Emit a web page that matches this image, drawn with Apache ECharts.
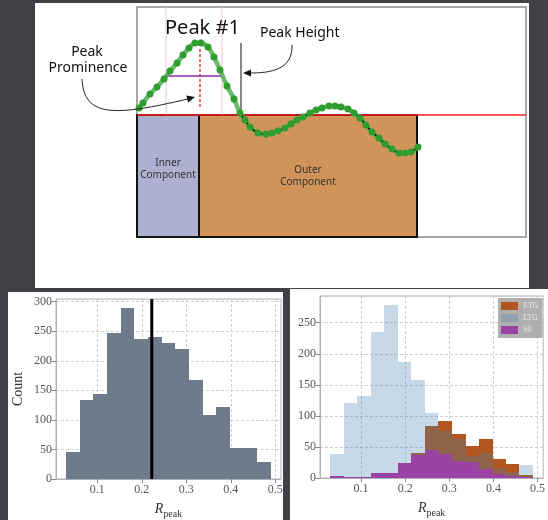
<!DOCTYPE html>
<html><head><meta charset="utf-8">
<script src="https://cdn.jsdelivr.net/npm/echarts@6/dist/echarts.min.js"></script>
<style>html,body{margin:0;padding:0;background:#404146}#c{width:548px;height:520px}</style>
</head><body><div id="c"></div>
<script>
// ---------- DATA ----------
// schematic profile (diagram units: x from left of frame, y above the threshold line)
const profileX = [2,6,13,20,27,33,40,46,52,58,64,71,77,83,90,97,103,108,113,121,129,135,141,148,154,160,166,173,179,185,192,198,204,211,217,223,229,235,242,248,255,262,268,274,281];
const profileY = [7,12,21,28,36,44,52,60,67,72,72,68,58,45,29,16,2,-5,-12,-18,-19,-18,-16,-13,-9,-5,-2,2,5,7,9,9,8,6,2,-3,-10,-17,-23,-29,-34,-38,-38,-37,-32];
const componentNames = ['Inner\nComponent', 'Outer\nComponent'];
const componentEdges = [0, 62, 280];
const componentDepth = -122;
const peakX = 63, peakTop = 68, peakBottom = 8;
const peakWidthEdges = [29, 85];
const prominenceLevel = 39;
const heightMarkerX = 104, heightMarkerTop = 72;

// histograms
const rEdges = [0.030,0.061,0.091,0.122,0.153,0.183,0.214,0.245,0.275,0.306,0.337,0.367,0.398,0.429,0.459,0.490];
const countAll = [45,133,143,247,290,237,240,230,220,168,108,122,53,53,28];
const medianR = 0.2224;
const countETG = [0,0,0,0,0,5,41,83,92,71,51,62,31,22,5];
const countLTG = [39,121,132,235,279,186,158,104,75,62,35,40,16,10,21];
const countS0  = [4,2,2,8,8,24,37,45,38,28,26,14,6,3,1];
const groupNames = ['ETG','LTG','S0'];

// ---------- CHART ----------
const chart = echarts.init(document.getElementById('c'), null, {renderer:'canvas'});
const serif = "'Liberation Serif', 'DejaVu Serif', serif";
const sans = "'Noto Sans', 'Open Sans', sans-serif";
const tickColor = '#555';
const gridBorder = '#aeb3b8';

function histSeries(name, values, fill, axisIdx, z) {
  return {
    type:'custom', name, xAxisIndex:axisIdx, yAxisIndex:axisIdx, z: z||2,
    itemStyle:{color:fill},
    data: values.map((v,i)=>[rEdges[i], rEdges[i+1], v]),
    encode:{x:[0,1], y:2},
    renderItem:(params, api)=>{
      const p0 = api.coord([api.value(0), api.value(2)]);
      const p1 = api.coord([api.value(1), 0]);
      const x0 = Math.round(p0[0]), x1 = Math.round(p1[0]);
      const y0 = Math.round(p0[1]), y1 = Math.round(p1[1]);
      return {type:'rect', shape:{x:x0, y:y0, width:x1-x0, height:y1-y0}, style:{fill}};
    }
  };
}

function seg(x0,y0,x1,y1,color,width,type,z){
  return {type:'line', xAxisIndex:0, yAxisIndex:0, data:[[x0,y0],[x1,y1]], symbol:'none', silent:true, z:z||3,
    lineStyle:{color, width, type:type||'solid'}, animation:false};
}

function histX(idx){
  return {gridIndex:idx, type:'value', min:0.007, max:0.513, splitNumber:5,
    axisLine:{show:true, lineStyle:{color:gridBorder}},
    axisTick:{show:true, length:4, lineStyle:{color:'#888'}},
    axisLabel:{color:tickColor, fontFamily:serif, fontSize:12, margin:5, showMinLabel:false, showMaxLabel:false,
      formatter:v=>v.toFixed(1)},
    splitLine:{show:true, lineStyle:{color:'#cfcfcf', type:[3,2]}},
    name:'{r|R}{p|peak}', nameLocation:'middle', nameGap:21,
    nameTextStyle:{rich:{r:{fontFamily:serif, fontStyle:'italic', fontSize:14, color:'#333'},
                          p:{fontFamily:serif, fontSize:10, color:'#333', padding:[9,0,0,0]}}}
  };
}
function histY(idx, max, name){
  return {gridIndex:idx, type:'value', min:0, max, interval:50,
    axisLine:{show:true, lineStyle:{color:gridBorder}},
    axisTick:{show:true, length:4, lineStyle:{color:'#888'}},
    axisLabel:{color:tickColor, fontFamily:serif, fontSize:12, margin:4, showMaxLabel:false},
    splitLine:{show:true, lineStyle:{color:'#cfcfcf', type:[3,2]}},
    name, nameLocation:'middle', nameGap:31, nameRotate:90,
    nameTextStyle:{fontFamily:serif, fontSize:14, color:'#333'}
  };
}

const outlineY = profileY.map(v => v <= 2 ? v : null);

const option = {
  backgroundColor:'#404146',
  animation:false,
  grid:[
    {left:137, top:7, width:389, height:230, show:false},
    {left:56, top:299, width:225, height:181, show:true, borderColor:gridBorder, borderWidth:1, backgroundColor:'transparent'},
    {left:320, top:296, width:228, height:182, show:true, borderColor:gridBorder, borderWidth:1, backgroundColor:'transparent'}
  ],
  xAxis:[
    {gridIndex:0, type:'value', min:0, max:389, show:false},
    histX(1), histX(2)
  ],
  yAxis:[
    {gridIndex:0, type:'value', min:componentDepth, max:108, show:false},
    histY(1, 304.5, 'Count'), histY(2, 293, '')
  ],
  legend:{
    data:groupNames, orient:'vertical', left:498, top:298, itemWidth:17, itemHeight:8, itemGap:4,
    icon:'rect', padding:[4,4,4,3], backgroundColor:'rgba(150,150,150,0.75)', borderWidth:0,
    textStyle:{fontFamily:serif, fontSize:8, color:'#e8e8e8'}, selectedMode:false
  },
  series:[
    // components boxes
    {type:'custom', xAxisIndex:0, yAxisIndex:0, z:2, silent:true,
     data: componentNames.map((n,i)=>[componentEdges[i], componentEdges[i+1], componentDepth, i]),
     renderItem:(params, api)=>{
       const a = api.coord([api.value(0), 0]);
       const b = api.coord([api.value(1), api.value(2)]);
       const i = api.value(3);
       const fills = ['#adb0d1','#d09459'];
       const ty = i===0 ? -7 : 0;
       return {type:'group', children:[
         {type:'rect', shape:{x:a[0], y:a[1], width:b[0]-a[0], height:b[1]-a[1]}, style:{fill:fills[i], stroke:'#111', lineWidth:2}},
         {type:'text', style:{text:componentNames[i], x:(a[0]+b[0])/2, y:(a[1]+b[1])/2+ty, textAlign:'center', align:'center', textVerticalAlign:'middle', verticalAlign:'middle', fill:'#333', fontSize:10, fontFamily:sans, lineHeight:12}}
       ]};
     }},
    // helper lines
    seg(peakWidthEdges[0],0,peakWidthEdges[0],108,'#f7c4c4',1),
    seg(peakWidthEdges[1],0,peakWidthEdges[1],108,'#f7c4c4',1),
    seg(0,0,389,0,'#ff1e1e',1.5,'solid',4),
    seg(peakX,peakBottom,peakX,peakTop,'#e03c3c',1.5,[3,2]),
    seg(peakWidthEdges[0],prominenceLevel,peakWidthEdges[1],prominenceLevel,'#8e2fa0',1.5),
    seg(heightMarkerX,0,heightMarkerX,heightMarkerTop,'#111',1),
    // profile curve
    {type:'line', xAxisIndex:0, yAxisIndex:0, z:5, data:profileX.map((x,i)=>[x, profileY[i]]), symbol:'none', smooth:0.3,
     lineStyle:{color:'rgba(80,175,80,0.85)', width:4.5}},
    {type:'line', xAxisIndex:0, yAxisIndex:0, z:6, data:profileX.map((x,i)=>[x, outlineY[i]]), symbol:'none', smooth:0.3, connectNulls:false,
     lineStyle:{color:'#111', width:1.5}},
    {type:'scatter', xAxisIndex:0, yAxisIndex:0, z:7, data:profileX.map((x,i)=>[x, profileY[i]]), symbolSize:7,
     itemStyle:{color:'#2f9e2f', opacity:1}},
    // left histogram
    histSeries('all', countAll, '#6e7b8b', 1),
    {type:'line', xAxisIndex:1, yAxisIndex:1, z:4, data:[[medianR,0],[medianR,304.5]], symbol:'none', lineStyle:{color:'#000', width:3}},
    // right histogram
    histSeries('ETG', countETG, '#b1561f', 2, 2),
    histSeries('LTG', countLTG, 'rgba(70,130,180,0.3)', 2, 3),
    histSeries('S0', countS0, '#9b43a3', 2, 4)
  ],
  graphic:{elements:[
    {type:'rect', z:-10, shape:{x:35, y:3, width:494, height:285}, style:{fill:'#fff'}, silent:true},
    {type:'rect', z:-10, shape:{x:8, y:292, width:275, height:228}, style:{fill:'#fff'}, silent:true},
    {type:'rect', z:-10, shape:{x:290, y:289, width:258, height:231}, style:{fill:'#fff'}, silent:true},
    {type:'rect', z:-5, shape:{x:137, y:7, width:389, height:230}, style:{fill:'none', stroke:'#8a8a8a', lineWidth:1.5}, silent:true},
    {type:'text', z:20, style:{text:'Peak #1', x:165, y:28, font:"20px 'Noto Sans', sans-serif", fill:'#111', textVerticalAlign:'middle', verticalAlign:'middle'}},
    {type:'text', z:20, style:{text:'Peak Height', x:260, y:33, font:"14px 'Noto Sans', sans-serif", fill:'#111', textVerticalAlign:'middle', verticalAlign:'middle'}},
    {type:'text', z:20, style:{text:'Peak', x:87, y:52, font:"14px 'Noto Sans', sans-serif", fill:'#111', textAlign:'center', align:'center', textVerticalAlign:'middle', verticalAlign:'middle'}},
    {type:'text', z:20, style:{text:'Prominence', x:88, y:68, font:"14px 'Noto Sans', sans-serif", fill:'#111', textAlign:'center', align:'center', textVerticalAlign:'middle', verticalAlign:'middle'}},
    {type:'bezierCurve', z:20, shape:{x1:82,y1:79,cpx1:84,cpy1:118,cpx2:115,cpy2:116,x2:188,y2:99}, style:{stroke:'#222', lineWidth:1, fill:null}},
    {type:'polygon', z:20, shape:{points:[[195,97],[188.1,102.4],[186.4,95.6]]}, style:{fill:'#111'}},
    {type:'bezierCurve', z:20, shape:{x1:292,y1:45,cpx1:293,cpy1:70,cpx2:270,cpy2:73,x2:250,y2:73}, style:{stroke:'#222', lineWidth:1, fill:null}},
    {type:'polygon', z:20, shape:{points:[[243,73],[251,69.5],[251,76.5]]}, style:{fill:'#111'}}
  ]}
};
chart.setOption(option);
</script></body></html>
